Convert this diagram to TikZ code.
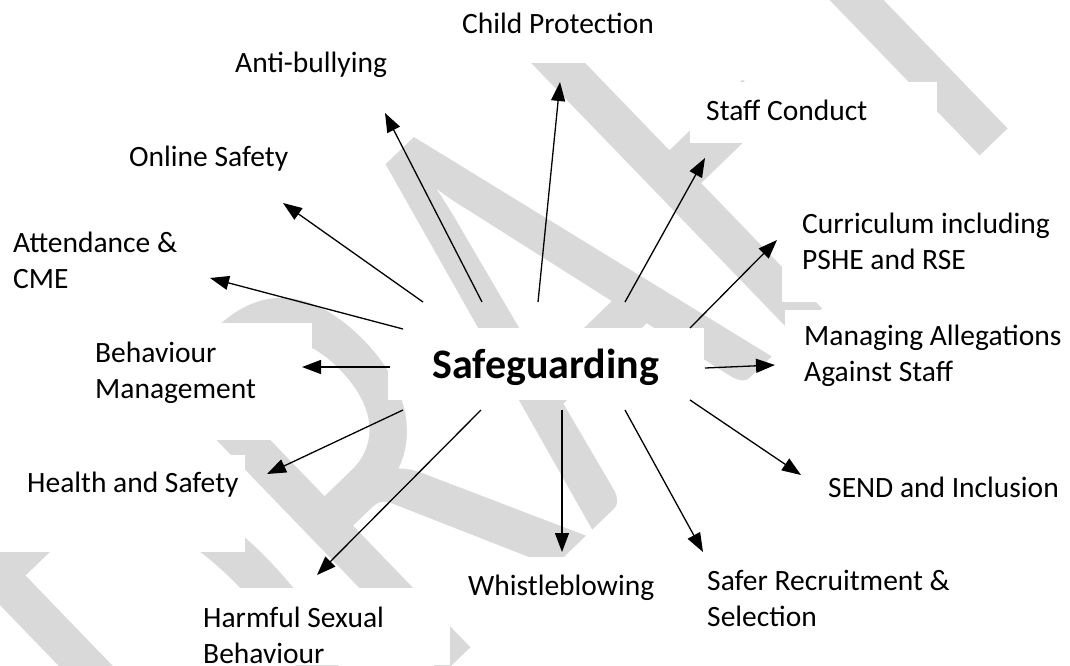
\documentclass[tikz,border=0pt]{standalone}
\usepackage{fontspec}
\setmainfont{Carlito}
\usetikzlibrary{arrows.meta}
\definecolor{wm}{RGB}{217,217,217}
\newcommand{\twoline}[2]{\begin{tabular}[t]{@{}l@{}}#1\\#2\end{tabular}}
\tikzset{
  lbl/.style={anchor=base west, inner sep=0pt, font=\fontsize{29.5}{36}\selectfont},
  arr/.style={-{Triangle[length=19pt,width=14pt]}, line width=1.3pt},
  mask/.style={fill=white},
}
\begin{document}
\begin{tikzpicture}[x=1pt,y=-1pt]
\useasboundingbox (0,0) rectangle (1070,665);
\clip (0,0) rectangle (1070,665);
% watermark
\node[rotate=44, yscale=1.45, anchor=base, text=wm, inner sep=0pt,
      font=\fontsize{437}{437}\selectfont] (wmark) at (649,476) {DRAFT};
% text box masks
\fill[mask] (455,0) rectangle (690,63);
\fill[mask] (690,82) rectangle (937,143);
\fill[mask] (782,190) rectangle (1070,302);
\fill[mask] (785,310) rectangle (1070,400);
\fill[mask] (388,328) rectangle (704,400);
\fill[mask] (80,323) rectangle (312,440);
\fill[mask] (0,455) rectangle (245,552);
\fill[mask] (195,588) rectangle (450,665);
\fill[mask] (447,557) rectangle (660,620);
\fill[mask] (695,560) rectangle (960,640);
\fill[mask] (815,460) rectangle (1070,515);
% labels
\node[lbl] (child) at (462,33) {Child Protection};
\node[lbl] (anti) at (235,72) {Anti-bullying};
\node[lbl] (online) at (129,166) {Online Safety};
\node[lbl] (attend) at (13,252) {\twoline{Attendance \&}{CME}};
\node[lbl] (behav) at (95,362) {\twoline{Behaviour}{Management}};
\node[lbl] (health) at (27,492) {Health and Safety};
\node[lbl] (harm) at (203,627) {\twoline{Harmful Sexual}{Behaviour}};
\node[lbl] (whistle) at (468,595) {Whistleblowing};
\node[lbl] (safer) at (707,590) {\twoline{Safer Recruitment \&}{Selection}};
\node[lbl] (send) at (828,497) {SEND and Inclusion};
\node[lbl] (manage) at (804,345) {\twoline{Managing Allegations}{Against Staff}};
\node[lbl] (curr) at (802,233) {\twoline{Curriculum including}{PSHE and RSE}};
\node[lbl] (staff) at (706,120) {Staff Conduct};
\node[anchor=base west, inner sep=0pt, font=\fontsize{42}{50}\selectfont\bfseries] (safe) at (432,378) {Safeguarding};
% arrow ends
\coordinate (s-anti) at (482,302);   \coordinate (t-anti) at (385,113);
\coordinate (s-child) at (538,302);  \coordinate (t-child) at (560,82);
\coordinate (s-staff) at (625,302);  \coordinate (t-staff) at (705,158);
\coordinate (s-curr) at (690,328);   \coordinate (t-curr) at (777,240);
\coordinate (s-manage) at (705,368); \coordinate (t-manage) at (775,365);
\coordinate (s-send) at (690,400);   \coordinate (t-send) at (801,475);
\coordinate (s-safer) at (625,410);  \coordinate (t-safer) at (703,552);
\coordinate (s-whistle) at (562,410);\coordinate (t-whistle) at (562,552);
\coordinate (s-harm) at (481,410);   \coordinate (t-harm) at (317,575);
\coordinate (s-health) at (403,410); \coordinate (t-health) at (267,474);
\coordinate (s-behav) at (390,367);  \coordinate (t-behav) at (302,367);
\coordinate (s-attend) at (403,329); \coordinate (t-attend) at (210,278);
\coordinate (s-online) at (423,302); \coordinate (t-online) at (283,203);
% arrows
\foreach \n in {anti,child,staff,curr,manage,send,safer,whistle,harm,health,behav,attend,online}
  \draw[arr] (s-\n) -- (t-\n);
\end{tikzpicture}
\end{document}
